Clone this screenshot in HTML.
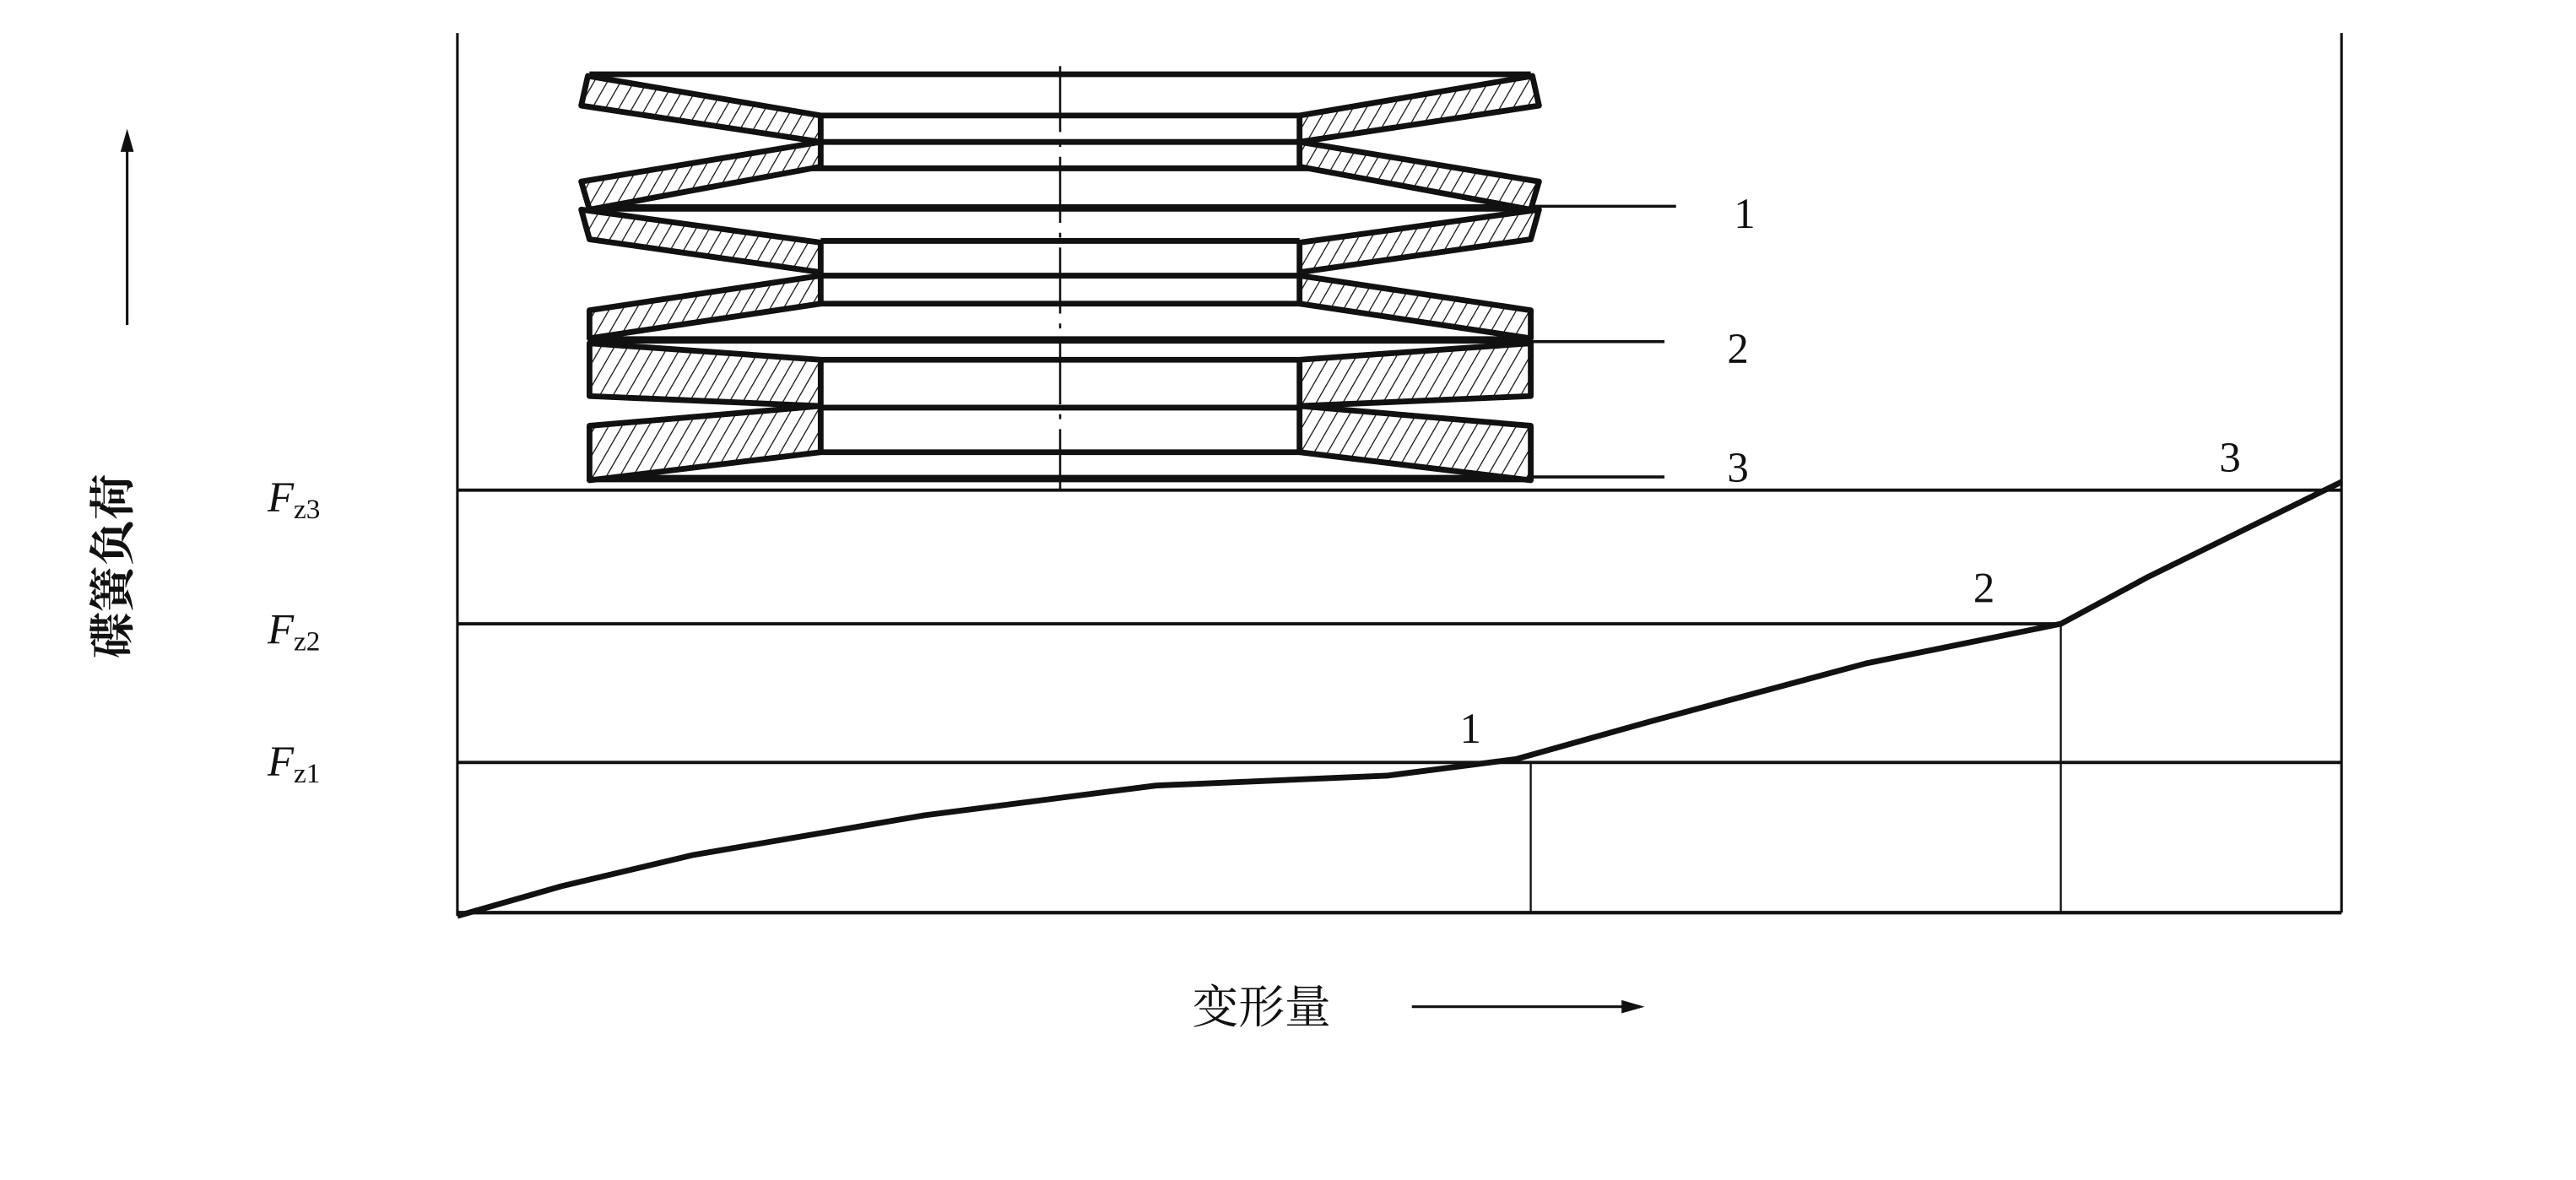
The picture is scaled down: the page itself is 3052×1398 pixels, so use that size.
<!DOCTYPE html>
<html><head><meta charset="utf-8"><style>
html,body{margin:0;padding:0;background:#fff;}
svg{display:block;}
</style></head><body>
<svg width="3052" height="1398" viewBox="0 0 1560 715" preserveAspectRatio="none" xmlns="http://www.w3.org/2000/svg">
<defs>
<pattern id="h" patternUnits="userSpaceOnUse" width="7" height="7" patternTransform="rotate(30)">
<rect width="7" height="7" fill="#fff"/><line x1="0" y1="0" x2="0" y2="7" stroke="#111" stroke-width="1.3"/>
</pattern>
</defs>
<g stroke="#111" fill="none">
<!-- frame -->
<line x1="277" y1="20" x2="277" y2="555" stroke-width="1.6"/>
<line x1="1418" y1="20" x2="1418" y2="553" stroke-width="1.6"/>
<line x1="277" y1="553" x2="1418" y2="553" stroke-width="2.2"/>
<line x1="277" y1="297" x2="1418" y2="297" stroke-width="2"/>
<line x1="277" y1="378" x2="1248" y2="378" stroke-width="2"/>
<line x1="277" y1="462" x2="1418" y2="462" stroke-width="2"/>
<line x1="927" y1="462" x2="927" y2="553" stroke-width="1.2"/>
<line x1="1248" y1="378" x2="1248" y2="553" stroke-width="1.2"/>
<polyline points="277,555 340,537 420,518 560,494 700,476 840,470 918,460 1000,437 1130,402 1248,378 1300,350 1418,292" stroke-width="3.5" stroke-linejoin="round"/>
<!-- callout lines -->
<line x1="928" y1="125" x2="1015" y2="125" stroke-width="1.8"/>
<line x1="925" y1="207" x2="1008" y2="207" stroke-width="1.8"/>
<line x1="928" y1="289" x2="1008" y2="289" stroke-width="1.8"/>
<!-- center line -->
<line x1="642" y1="40" x2="642" y2="297" stroke-width="1.3" stroke-dasharray="40 6 3 6"/>
<!-- arrows -->
<line x1="77" y1="197" x2="77" y2="88" stroke-width="1.6"/>
<line x1="855" y1="610" x2="985" y2="610" stroke-width="1.6"/>
</g>
<polygon points="77,78 73,92 81,92" fill="#111"/>
<polygon points="996,610 982,606 982,614" fill="#111"/>

<g stroke="#111" stroke-width="3.5" stroke-linejoin="round">
<!-- horizontal plate lines -->
<line x1="357" y1="45" x2="927" y2="45"/>
<line x1="497" y1="70" x2="787" y2="70"/>
<line x1="497" y1="86" x2="787" y2="86"/>
<line x1="480" y1="102" x2="804" y2="102"/>
<line x1="357" y1="126" x2="927" y2="126" stroke-width="4.5"/>
<line x1="497" y1="146" x2="787" y2="146"/>
<line x1="497" y1="167" x2="787" y2="167"/>
<line x1="480" y1="184" x2="804" y2="184"/>
<line x1="357" y1="206" x2="927" y2="206" stroke-width="4.5"/>
<line x1="497" y1="218" x2="787" y2="218"/>
<line x1="480" y1="247" x2="804" y2="247"/>
<line x1="497" y1="274" x2="787" y2="274"/>
<line x1="357" y1="290" x2="927" y2="290" stroke-width="4.5"/>
<!-- left trapezoids -->
<g fill="url(#h)">
<polygon points="356,46 497,70 497,86 352,64"/>
<polygon points="497,86 497,101 357,127 352,110"/>
<polygon points="352,127 497,147 497,165 357,145"/>
<polygon points="497,167 497,184 357,205 357,188"/>
<polygon points="357,208 497,218 497,246 357,240"/>
<polygon points="497,246 497,274 357,291 357,258"/>
<!-- right trapezoids -->
<polygon points="928,46 787,70 787,86 932,64"/>
<polygon points="787,86 787,101 927,127 932,110"/>
<polygon points="932,127 787,147 787,165 927,145"/>
<polygon points="787,167 787,184 927,205 927,188"/>
<polygon points="927,208 787,218 787,246 927,240"/>
<polygon points="787,246 787,274 927,291 927,258"/>
</g>
</g>

<g font-family="Liberation Serif, serif" fill="#111" font-size="26">
<text x="1050" y="138">1</text>
<text x="1046" y="220">2</text>
<text x="1046" y="292">3</text>
<text x="884" y="450">1</text>
<text x="1195" y="365">2</text>
<text x="1344" y="286">3</text>
<text x="162" y="310" font-style="italic">F<tspan font-size="17" font-style="normal" dy="4">z3</tspan></text>
<text x="162" y="390" font-style="italic">F<tspan font-size="17" font-style="normal" dy="4">z2</tspan></text>
<text x="162" y="470" font-style="italic">F<tspan font-size="17" font-style="normal" dy="4">z1</tspan></text>
</g>
<g font-family="Liberation Serif, 'Noto Serif CJK SC', serif" fill="#111">
<text x="722" y="620" font-size="28">变形量</text>
<text transform="translate(78,399) rotate(-90)" font-size="28" font-weight="bold">碟簧负荷</text>
</g>
</svg>
</body></html>
